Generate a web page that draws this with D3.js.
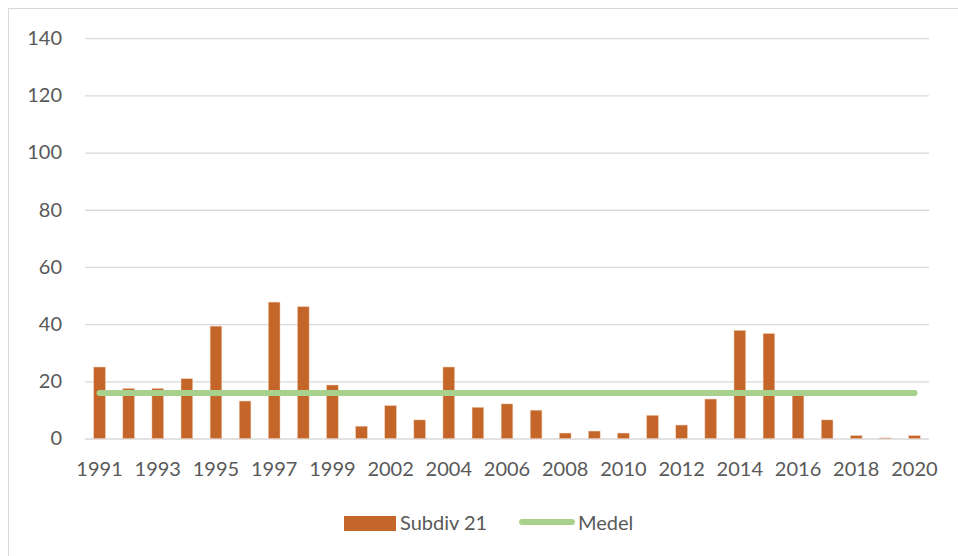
<!DOCTYPE html>
<html>
<head>
<meta charset="utf-8">
<script src="https://cdn.jsdelivr.net/npm/d3@7"></script>
<style>
  html, body { margin: 0; padding: 0; background: #fff; }
  svg { display: block; }
  text { font-family: Lato, "Open Sans", sans-serif; fill: #595959; }
</style>
</head>
<body>
<svg id="chart" width="958" height="556"></svg>
<script>
const years = ["1991","1992","1993","1994","1995","1996","1997","1998","1999","2001",
               "2002","2003","2004","2005","2006","2007","2008","2009","2010","2011",
               "2012","2013","2014","2015","2016","2017","2018","2019","2020"];
const subdiv21 = [25, 17.5, 17.5, 20.9, 39.3, 13.1, 47.7, 46.1, 18.7, 4.3,
                  11.5, 6.5, 25, 10.9, 12.1, 9.9, 1.9, 2.6, 1.9, 8.1,
                  4.7, 13.8, 37.8, 36.7, 15.2, 6.5, 1.0, 0.2, 1.0];
const medel = [15.9, 15.9, 15.9, 15.9, 15.9, 15.9, 15.9, 15.9, 15.9, 15.9,
               15.9, 15.9, 15.9, 15.9, 15.9, 15.9, 15.9, 15.9, 15.9, 15.9,
               15.9, 15.9, 15.9, 15.9, 15.9, 15.9, 15.9, 15.9, 15.9];
const yTicks = [0, 20, 40, 60, 80, 100, 120, 140];
const seriesNames = ["Subdiv 21", "Medel"];

const barColor = "#C46529";
const lineColor = "#A9D18E";

const svg = d3.select("#chart");
const plotLeft = 85, plotRight = 929, plotTop = 38.2, plotBottom = 438.5;

// chart border
svg.append("rect").attr("x", 8.5).attr("y", 8.5).attr("width", 960).attr("height", 560)
  .attr("fill", "none").attr("stroke", "#D9D9D9").attr("stroke-width", 1);

const x = d3.scaleBand().domain(years).range([plotLeft, plotRight]).paddingInner(0.6).paddingOuter(0.3);
const y = d3.scaleLinear().domain([0, 140]).range([plotBottom, plotTop]);

// gridlines + y labels
const yAxis = d3.axisLeft(y).tickValues(yTicks).tickSize(-(plotRight - plotLeft)).tickPadding(23);
const gy = svg.append("g").attr("transform", `translate(${plotLeft},0)`).call(yAxis);
gy.select(".domain").remove();
gy.selectAll(".tick line").attr("stroke", "#D9D9D9").attr("stroke-width", 1.3);
gy.selectAll(".tick text").attr("font-size", 20).attr("fill", "#595959")
  .style("font-family", "Lato, 'Open Sans', sans-serif");

// bars
svg.append("g").selectAll("rect").data(years).join("rect")
  .attr("x", d => x(d))
  .attr("width", x.bandwidth())
  .attr("y", (d, i) => y(subdiv21[i]))
  .attr("height", (d, i) => y(0) - y(subdiv21[i]))
  .attr("fill", barColor)
  .attr("stroke", "#F0C9AE").attr("stroke-width", 0.5);

// x axis labels (every other)
const xAxis = d3.axisBottom(x).tickValues(years.filter((d, i) => i % 2 === 0)).tickSize(0).tickPadding(23);
const gx = svg.append("g").attr("transform", `translate(0,${plotBottom})`).call(xAxis);
gx.select(".domain").remove();
gx.selectAll(".tick text").attr("font-size", 20).attr("fill", "#595959")
  .style("font-family", "Lato, 'Open Sans', sans-serif");

// Medel line
const line = d3.line()
  .x((d, i) => x(years[i]) + x.bandwidth() / 2)
  .y(d => y(d));
svg.append("path").datum(medel)
  .attr("d", line)
  .attr("fill", "none")
  .attr("stroke", lineColor)
  .attr("stroke-width", 6)
  .attr("stroke-linecap", "round");

// legend
const lg = svg.append("g");
lg.append("rect").attr("x", 344).attr("y", 516).attr("width", 52).attr("height", 15).attr("fill", barColor);
lg.append("text").attr("x", 400).attr("y", 530).attr("font-size", 20).text(seriesNames[0]);
lg.append("line").attr("x1", 522).attr("x2", 572).attr("y1", 522).attr("y2", 522)
  .attr("stroke", lineColor).attr("stroke-width", 6).attr("stroke-linecap", "round");
lg.append("text").attr("x", 578).attr("y", 530).attr("font-size", 20).text(seriesNames[1]);
</script>
</body>
</html>
